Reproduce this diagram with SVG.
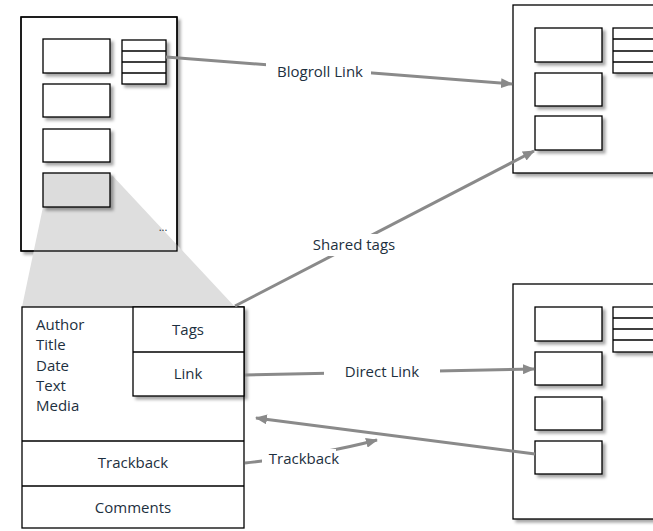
<svg xmlns="http://www.w3.org/2000/svg" width="653" height="531" viewBox="0 0 653 531">
<defs>
<filter id="sh" x="-10%" y="-10%" width="130%" height="130%">
<feDropShadow dx="3" dy="3" stdDeviation="1.5" flood-color="#000" flood-opacity="0.35"/>
</filter>
<marker id="ah" viewBox="0 0 12 10" refX="11" refY="5" markerWidth="12" markerHeight="10" markerUnits="userSpaceOnUse" orient="auto">
<path d="M0,0 L12,5 L0,10 Z" fill="#8a8a8a"/>
</marker>
</defs>
<style>
.pg{fill:#fff;stroke:#000;stroke-width:1.3;filter:url(#sh)}
.bx{fill:#fff;stroke:#000;stroke-width:1.3;filter:url(#sh)}
.ln{stroke:#000;stroke-width:1.3;fill:none}
.cn{stroke:#8a8a8a;stroke-width:3;fill:none}
.t{font-family:"Open Sans","Noto Sans",sans-serif;font-size:15px;font-weight:500;fill:#1d3040}
.lb{fill:#fff}
</style>

<g id="blog-page">
<rect class="pg" x="21" y="17" width="156" height="234"/>
<polygon points="43,207 43,173 110,173 235,307 22,307" fill="#dedede"/>
<rect x="21" y="17" width="156" height="234" class="ln"/>
<rect class="bx" x="43" y="39" width="67" height="34"/>
<rect class="bx" x="43" y="84" width="67" height="33"/>
<rect class="bx" x="43" y="129" width="67" height="33"/>
<rect class="bx" x="43" y="173" width="67" height="34" style="fill:#dcdcdc"/>
<rect class="bx" x="122" y="40" width="44" height="44"/>
<path class="ln" d="M122,51H166M122,62H166M122,73H166"/>
<text x="163" y="231" class="t" style="font-size:11px" text-anchor="middle">...</text>
</g>

<g id="target-page-top">
<rect class="pg" x="513" y="5" width="200" height="168"/>
<rect class="bx" x="535" y="28" width="67" height="34"/>
<rect class="bx" x="535" y="73" width="67" height="33"/>
<rect class="bx" x="535" y="116" width="67" height="34"/>
<rect class="bx" x="613" y="28" width="60" height="45"/>
<path class="ln" d="M613,39H660M613,51H660M613,62H660"/>
</g>

<g id="target-page-bottom">
<rect class="pg" x="513" y="284" width="200" height="235"/>
<rect class="bx" x="535" y="307" width="67" height="34"/>
<rect class="bx" x="535" y="352" width="67" height="33"/>
<rect class="bx" x="535" y="397" width="67" height="33"/>
<rect class="bx" x="535" y="441" width="67" height="33"/>
<rect class="bx" x="613" y="307" width="60" height="45"/>
<path class="ln" d="M613,318H660M613,329H660M613,340H660"/>
</g>

<g id="post">
<rect x="22" y="307" width="222" height="221" fill="#fff" class="ln"/>
<path class="ln" d="M22,441H244M22,486H244"/>
<text class="t" x="36" y="330">Author</text>
<text class="t" x="36" y="350">Title</text>
<text class="t" x="36" y="371">Date</text>
<text class="t" x="36" y="391">Text</text>
<text class="t" x="36" y="411">Media</text>
<text class="t" x="133" y="468" text-anchor="middle">Trackback</text>
<text class="t" x="133" y="513" text-anchor="middle">Comments</text>
</g>

<g id="tags-link">
<rect class="bx" x="133" y="307" width="111" height="89"/>
<path class="ln" d="M133,352H244"/>
<text class="t" x="188" y="335" text-anchor="middle">Tags</text>
<text class="t" x="188" y="379" text-anchor="middle">Link</text>
</g>

<g id="connectors">
<line class="cn" x1="166" y1="57" x2="512" y2="84" marker-end="url(#ah)"/>
<rect class="lb" x="266" y="60" width="105" height="22"/>
<text class="t" x="320" y="77" text-anchor="middle">Blogroll Link</text>

<line class="cn" x1="235" y1="306" x2="534" y2="151" marker-end="url(#ah)"/>
<rect class="lb" x="306" y="234" width="96" height="22"/>
<text class="t" x="354" y="250" text-anchor="middle">Shared tags</text>

<line class="cn" x1="245" y1="375" x2="534" y2="369" marker-end="url(#ah)"/>
<rect class="lb" x="324" y="361" width="116" height="22"/>
<text class="t" x="382" y="377" text-anchor="middle">Direct Link</text>

<line class="cn" x1="535" y1="454" x2="256" y2="418" marker-end="url(#ah)"/>

<path class="cn" d="M245,463 Q320,455 377,440" marker-end="url(#ah)"/>
<rect class="lb" x="262" y="449" width="74" height="20"/>
<text class="t" x="304" y="464" text-anchor="middle">Trackback</text>
</g>
</svg>
